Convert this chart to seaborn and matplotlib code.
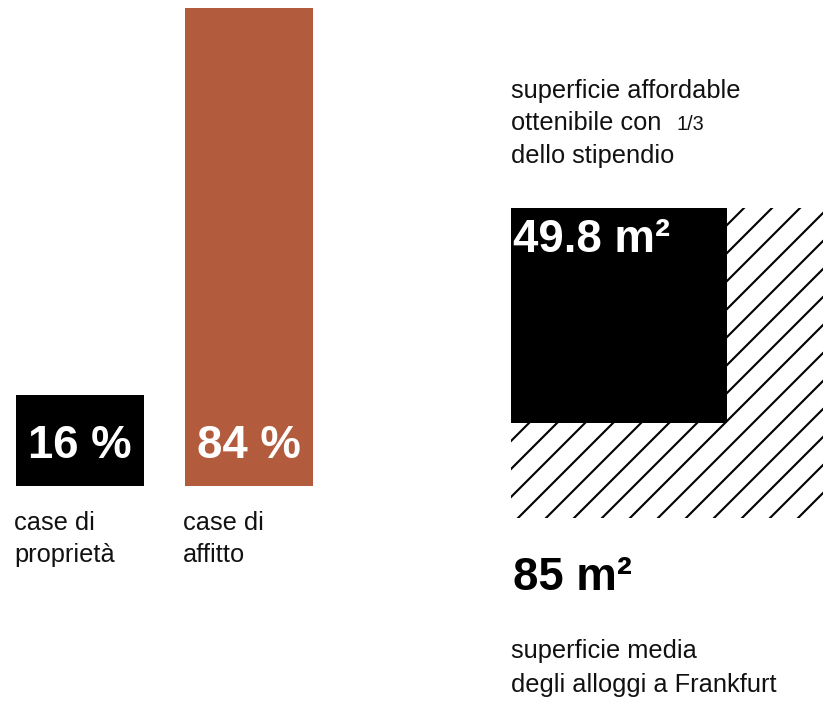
import matplotlib
matplotlib.use("Agg")
import numpy as np
import matplotlib.pyplot as plt
import seaborn as sns
from matplotlib.patches import Rectangle

# data
categories = ["case di\nproprietà", "case di\naffitto"]
shares = [16, 84]
bar_colors = ["#000000", "#B35B3D"]
area_fit = 49.8   # m2 affordable with 1/3 of the salary
area_avg = 85     # m2 average flat in Frankfurt

DPI = 168
W, H = 823, 702
TXT = "#111111"

sns.set_theme(style="white")
plt.rcParams["font.family"] = ["Liberation Sans", "DejaVu Sans"]
plt.rcParams["hatch.linewidth"] = 0.9

fig = plt.figure(figsize=(W / DPI, H / DPI), dpi=DPI)


def px_axes(x0, y0, x1, y1):
    return fig.add_axes([x0 / W, 1 - y1 / H, (x1 - x0) / W, (y1 - y0) / H])


def put_lines(ax, x, y0, lines, step, **kw):
    for k, line in enumerate(lines):
        ax.text(x, y0 + k * step, line, va="baseline", ha="left", **kw)


# overlay in pixel coords for free text
ax_txt = px_axes(0, 0, W, H)
ax_txt.set_xlim(0, W)
ax_txt.set_ylim(H, 0)
ax_txt.axis("off")

# bars
ax_bar = px_axes(0, 0, 340, 485.5)
sns.barplot(x=categories, y=shares, hue=categories, palette=bar_colors,
            saturation=1, width=0.757, legend=False, linewidth=0, ax=ax_bar)
ax_bar.set_xlim(-80 / 169, (340 - 80) / 169)
ax_bar.set_ylim(0, 485.5 / 5.68)
ax_bar.axis("off")

for i, v in enumerate(shares):
    ax_bar.annotate(f"{v} %", xy=(i, 0), xytext=(0, 27), textcoords="offset pixels",
                    ha="center", va="baseline", color="white",
                    fontsize=19.5, fontweight="bold")
    for k, line in enumerate(categories[i].split("\n")):
        ax_bar.annotate(line, xy=(i, 0), xytext=(-66, -44.5 - 32 * k),
                        textcoords="offset pixels", ha="left", va="baseline",
                        color=TXT, fontsize=10.9)

# squares: average flat (hatched) and affordable part (black)
side_avg = np.sqrt(area_avg)
side_fit = np.sqrt(area_fit)

ax_avg = px_axes(511, 208, 823, 518)
ax_avg.add_patch(Rectangle((0, 0), side_avg, side_avg, facecolor="white",
                           edgecolor="black", hatch="//", linewidth=0))
ax_avg.set_xlim(0, side_avg)
ax_avg.set_ylim(side_avg, 0)
ax_avg.axis("off")

ax_fit = px_axes(511, 208, 727, 423)
ax_fit.add_patch(Rectangle((0, 0), side_fit, side_fit, facecolor="black", linewidth=0))
ax_fit.set_xlim(0, side_fit)
ax_fit.set_ylim(side_fit, 0)
ax_fit.axis("off")

ax_fit.annotate(f"{area_fit} m²", xy=(0, 1), xycoords="axes fraction",
                xytext=(2, -44), textcoords="offset pixels", ha="left", va="baseline",
                color="white", fontsize=19.5, fontweight="bold")
ax_avg.annotate(f"{area_avg} m²", xy=(0, 0), xycoords="axes fraction",
                xytext=(2, -72), textcoords="offset pixels", ha="left", va="baseline",
                color="black", fontsize=19.5, fontweight="bold")

put_lines(ax_txt, 511, 98, ["superficie affordable", "ottenibile con", "dello stipendio"],
          32.5, color=TXT, fontsize=10.9)
ax_txt.text(677, 130.5, "1/3", va="baseline", ha="left", color=TXT, fontsize=8.5)
put_lines(ax_txt, 511, 658, ["superficie media", "degli alloggi a Frankfurt"],
          34, color=TXT, fontsize=10.9)

fig.savefig("out.png", dpi=DPI)
